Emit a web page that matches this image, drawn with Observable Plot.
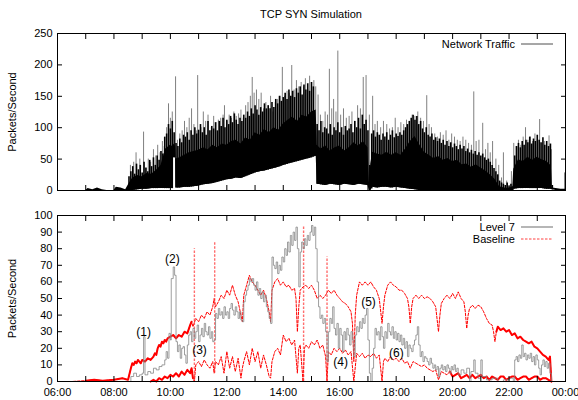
<!DOCTYPE html>
<html>
<head>
<meta charset="utf-8">
<script src="https://cdn.jsdelivr.net/npm/d3@7"></script>
<script src="https://cdn.jsdelivr.net/npm/@observablehq/plot@0.6"></script>
<style>
  body { margin: 0; background: #fff; }
  #wrap { position: relative; width: 578px; height: 400px; font-family: "Liberation Sans", Arial, sans-serif; }
  #title { position: absolute; left: 0; width: 622px; top: 8px; text-align: center; font-size: 11px; color: #000; }
  #topPlot { position: absolute; left: 0; top: 0; }
  #botPlot { position: absolute; left: 0; top: 200px; }
  .leg { position: absolute; left: 380px; width: 135px; text-align: right; font-size: 11px; line-height: 12px; color: #000; }
  .sw { position: absolute; left: 521px; width: 32px; height: 4px; display: block; }
</style>
</head>
<body>
<div id="wrap">
  <div id="topPlot"></div>
  <div id="botPlot"></div>
  <div id="title">TCP SYN Simulation</div>
  <div id="legends"></div>
</div>
<script>
// ---------------- DATA ----------------
const chartTitle = "TCP SYN Simulation";
const yLabel = "Packets/Second";
const topLegend = "Network Traffic";
const seriesNames = ["Level 7", "Baseline"];
const xTickHours = [6, 8, 10, 12, 14, 16, 18, 20, 22, 24];
const topYTicks = [0, 50, 100, 150, 200, 250];
const botYTicks = [0, 10, 20, 30, 40, 50, 60, 70, 80, 90, 100];

// Network traffic: dense band [time, low, high]
const trafficBand = [
["06:00",0,0],["07:00",0,0],["07:05",0,3],["07:15",0,1],["07:25",0,4],["07:35",0,1],["07:45",0,0],["08:00",0,0],["08:05",0,5],["08:15",0,4],["08:25",0,1],
["08:33",0,12],["08:40",0,20],["08:50",1,24],["09:00",2,22],["09:10",2,27],["09:20",3,26],["09:30",3,32],["09:40",3,40],["09:50",3,66],["10:00",3,72],["10:05",3,70],
["10:06",52,75],["10:11",52,70],["10:12",4,50],["10:20",4,52],["10:30",5,56],["10:40",5,60],["10:50",6,62],["11:00",7,64],["11:10",9,68],["11:20",10,65],["11:30",11,72],
["11:40",13,68],["11:50",15,74],["12:00",17,72],["12:10",18,78],["12:20",20,80],["12:30",19,74],["12:40",22,84],["12:50",25,80],["13:00",28,92],["13:10",30,88],
["13:20",31,97],["13:30",33,92],["13:40",35,100],["13:50",37,96],["14:00",40,106],["14:10",42,112],["14:20",44,117],["14:30",46,110],["14:40",48,120],["14:50",50,117],
["15:00",52,125],["15:10",55,128],["15:12",10,72],["15:20",9,66],["15:30",8,71],["15:40",10,63],["15:50",9,68],["16:00",8,71],["16:10",10,63],["16:20",9,68],
["16:30",8,76],["16:40",10,71],["16:50",9,78],["17:00",8,68],["17:03",0,12],["17:06",0,42],["17:10",5,61],["17:20",4,58],["17:30",5,56],["17:40",5,61],["17:50",4,56],
["18:00",5,60],["18:10",4,56],["18:20",3,66],["18:30",2,78],["18:40",1,86],["18:50",0,73],["19:00",0,61],["19:10",0,56],["19:20",0,51],["19:30",0,54],["19:40",0,48],
["19:50",0,51],["20:00",0,46],["20:10",0,48],["20:20",0,41],["20:30",0,42],["20:40",0,37],["20:50",0,41],["21:00",0,36],["21:10",0,31],["21:20",0,25],["21:30",0,18],
["21:40",0,6],["21:50",0,4],["22:00",0,3],["22:08",0,6],["22:10",2,34],["22:20",3,49],["22:30",3,46],["22:40",3,53],["22:50",3,48],["23:00",3,53],["23:10",3,49],
["23:20",2,46],["23:30",2,39],["23:32",1,4],["23:40",0,3],["23:50",0,2],["24:00",0,2]
];

// Network traffic: medium peaks, one every 4 minutes from 08:32
const midPeakStart = "08:32";
const midPeakStepMinutes = 4;
const midPeaks = [
22,30,38,26,42,33,40,28,45,36,30,48,38,52,40,
55,48,62,58,85,90,105,98,110,92,75,70,82,76,88,
85,92,80,95,88,100,90,96,105,92,100,88,110,95,102,
98,108,95,110,102,115,100,112,105,118,108,122,112,105,115,
110,120,115,125,118,130,122,135,128,120,132,125,138,130,135,
130,140,132,145,138,150,142,148,155,145,160,150,158,148,162,
155,165,152,168,160,170,158,172,165,100,105,95,110,92,100,
98,90,105,88,100,95,108,92,100,88,102,95,98,105,92,
110,100,115,98,120,105,112,95,40,90,95,85,92,88,80,
90,85,92,80,88,95,84,90,86,92,88,95,100,105,110,
115,120,112,118,105,110,98,92,100,88,85,90,80,84,78,
82,75,80,72,78,70,76,68,74,70,65,72,66,70,62,
66,60,64,58,62,56,60,55,58,52,48,50,45,40,35,
30,25,15,12,10,8,12,6,10,5,55,70,75,68,78,
72,80,76,85,74,82,78,88,80,76,84,72,78,70,74,
8
];

// Network traffic: tall individual peaks [time, value]
const trafficPeaks = [
["08:35",40],["08:42",45],["08:47",60],["08:55",50],["09:03",93],["09:08",35],["09:13",50],["09:18",45],["09:24",65],["09:29",55],["09:33",72],["09:38",60],["09:43",78],
["09:47",70],["09:52",100],["09:56",138],["10:00",115],["10:04",125],["10:11",181],["10:15",80],["10:20",90],["10:25",95],["10:30",110],["10:35",100],["10:40",115],
["10:45",130],["10:50",105],["10:55",95],["10:58",183],["11:05",100],["11:10",125],["11:15",110],["11:20",120],["11:27",100],["11:32",118],["11:37",108],["11:42",112],
["11:47",115],["11:52",120],["11:55",135],["12:00",110],["12:05",120],["12:10",115],["12:15",125],["12:20",118],["12:25",122],["12:30",128],["12:35",115],["12:40",135],
["12:45",140],["12:50",150],["12:54",180],["12:58",155],["13:03",160],["13:08",145],["13:13",155],["13:18",130],["13:23",140],["13:28",135],["13:33",150],["13:38",125],
["13:43",140],["13:48",145],["13:53",150],["13:58",196],["14:03",150],["14:08",158],["14:13",155],["14:18",199],["14:23",160],["14:28",175],["14:33",165],["14:38",172],
["14:43",165],["14:47",178],["14:52",160],["14:56",182],["15:00",170],["15:05",175],["15:09",165],["15:14",152],["15:19",120],["15:24",110],["15:29",125],["15:34",120],
["15:38",193],["15:43",130],["15:47",145],["15:52",125],["15:56",222],["16:02",120],["16:08",130],["16:14",115],["16:20",118],["16:26",125],["16:32",110],["16:38",135],
["16:44",130],["16:50",180],["16:56",183],["17:03",120],["17:10",150],["17:15",105],["17:20",110],["17:27",100],["17:33",110],["17:40",105],["17:46",98],["17:52",100],
["17:58",115],["18:04",100],["18:10",108],["18:16",105],["18:22",112],["18:28",110],["18:34",120],["18:40",118],["18:46",125],["18:52",115],["18:58",110],["19:05",151],
["19:10",105],["19:15",100],["19:22",90],["19:28",85],["19:34",92],["19:40",88],["19:46",95],["19:52",80],["19:58",90],["20:04",85],["20:10",80],["20:16",78],["20:22",85],
["20:28",80],["20:34",75],["20:40",72],["20:45",157],["20:50",78],["20:56",80],["21:04",107],["21:10",65],["21:15",75],["21:20",60],["21:25",78],["21:32",50],["21:38",40],
["21:44",20],["21:48",60],["21:55",15],["22:05",30],["22:10",75],["22:15",70],["22:20",80],["22:25",72],["22:30",85],["22:35",100],["22:40",80],["22:45",85],["22:50",78],
["22:55",90],["23:00",80],["23:05",113],["23:10",75],["23:15",78],["23:20",70],["23:25",87],["23:30",65],["23:58",28]
];

// Level 7 [hour, value]
const level7 = [
[6.0,0],[8.55,0],[8.6,3],[8.7,5],[8.8,3],[8.9,4],[9.0,5],[9.05,27],[9.1,4],[9.2,6],[9.3,5],[9.4,8],[9.5,7],[9.6,9],[9.7,10],[9.8,13],[9.85,18],[9.9,14],[9.95,29],[10.0,25],
[10.03,62],[10.1,69],[10.15,64],[10.2,24],[10.25,18],[10.3,22],[10.35,14],[10.4,20],[10.45,21],[10.5,16],[10.55,11],[10.6,22],[10.65,28],[10.7,30],[10.75,24],[10.8,32],
[10.85,26],[10.9,30],[10.95,34],[11.0,24],[11.05,28],[11.1,32],[11.15,27],[11.2,35],[11.25,30],[11.3,28],[11.35,33],[11.4,26],[11.45,30],[11.5,24],[11.55,25],[11.6,41],
[11.65,38],[11.7,44],[11.75,40],[11.8,42],[11.85,38],[11.9,45],[11.95,40],[12.0,42],[12.05,38],[12.1,44],[12.15,47],[12.2,43],[12.25,40],[12.3,45],[12.35,42],[12.4,38],
[12.45,42],[12.5,37],[12.55,36],[12.6,48],[12.65,52],[12.7,55],[12.75,58],[12.8,62],[12.85,60],[12.9,62],[12.95,58],[13.0,55],[13.05,60],[13.1,52],[13.15,56],[13.2,50],
[13.25,54],[13.3,48],[13.35,52],[13.4,45],[13.45,42],[13.5,38],[13.55,35],[13.6,75],[13.65,70],[13.7,68],[13.75,72],[13.8,65],[13.85,70],[13.9,67],[13.95,75],[14.0,72],
[14.05,80],[14.1,76],[14.15,84],[14.2,78],[14.25,88],[14.3,82],[14.35,90],[14.4,85],[14.45,93],[14.5,80],[14.55,57],[14.6,78],[14.65,84],[14.7,80],[14.75,86],[14.8,82],
[14.85,88],[14.9,85],[14.95,90],[15.0,94],[15.05,88],[15.1,93],[15.15,80],[15.2,60],[15.25,45],[15.3,38],[15.35,40],[15.4,35],[15.45,38],[15.5,30],[15.55,12],[15.6,30],
[15.65,38],[15.7,35],[15.75,45],[15.8,32],[15.85,28],[15.9,35],[15.95,20],[16.0,32],[16.05,28],[16.1,18],[16.15,30],[16.2,25],[16.25,32],[16.3,28],[16.35,22],[16.4,30],
[16.45,25],[16.5,15],[16.55,28],[16.6,33],[16.65,30],[16.7,36],[16.75,32],[16.8,38],[16.85,35],[16.9,40],[16.95,44],[17.0,25],[17.05,5],[17.1,0],[17.15,8],[17.2,20],
[17.25,32],[17.3,28],[17.35,30],[17.4,25],[17.45,33],[17.5,27],[17.55,20],[17.6,30],[17.65,26],[17.7,35],[17.75,30],[17.8,28],[17.85,33],[17.9,26],[17.95,30],[18.0,25],
[18.05,29],[18.1,24],[18.15,28],[18.2,22],[18.25,26],[18.3,20],[18.35,24],[18.4,15],[18.45,22],[18.5,20],[18.55,18],[18.6,22],[18.65,25],[18.7,28],[18.75,33],[18.8,22],
[18.85,15],[18.9,18],[18.95,12],[19.0,15],[19.05,14],[19.1,12],[19.15,10],[19.2,14],[19.25,11],[19.3,8],[19.35,10],[19.4,7],[19.45,9],[19.5,3],[19.55,8],[19.6,10],
[19.65,7],[19.7,9],[19.75,6],[19.8,10],[19.85,8],[19.9,5],[19.95,9],[20.0,7],[20.05,10],[20.1,6],[20.15,8],[20.2,4],[20.3,7],[20.4,5],[20.5,8],[20.6,0],[20.65,6],
[20.75,13],[20.8,5],[20.9,2],[21.0,13],[21.05,3],[21.2,1],[21.4,2],[21.6,0],[21.8,1],[22.0,2],[22.15,0],[22.2,13],[22.25,15],[22.3,12],[22.35,16],[22.4,14],[22.45,22],
[22.5,15],[22.55,17],[22.6,13],[22.65,16],[22.7,14],[22.75,17],[22.8,12],[22.85,15],[22.9,10],[22.95,16],[23.0,13],[23.05,8],[23.1,4],[23.15,10],[23.2,13],[23.25,9],
[23.3,12],[23.35,8],[23.4,11],[23.45,5],[23.5,0],[24.0,0]
];

// Baseline, upper trace [hour, value]
const baselineUpper = [
[6.0,0],[6.5,0],[7.0,0.5],[7.3,1],[7.6,0.5],[8.0,1],[8.3,2],[8.5,1],[8.6,8],[8.65,11],[8.7,10],[8.75,12],[8.8,11],[8.85,13],[8.9,12],[8.95,11],[9.0,13],[9.1,12],
[9.2,14],[9.3,13],[9.4,15],[9.45,17],[9.5,16],[9.55,20],[9.6,22],[9.65,21],[9.7,24],[9.75,23],[9.8,25],[9.85,24],[9.9,26],[10.0,27],[10.1,28],[10.2,26],[10.3,28],
[10.4,27],[10.5,30],[10.6,29],[10.7,34],[10.75,36],[10.8,33],[10.9,38],[11.0,36],[11.1,40],[11.2,38],[11.3,42],[11.4,40],[11.5,45],[11.55,50],[11.6,45],[11.7,48],
[11.8,52],[11.9,50],[12.0,55],[12.1,52],[12.2,58],[12.3,52],[12.4,48],[12.5,40],[12.55,36],[12.6,52],[12.7,58],[12.8,64],[12.9,60],[13.0,58],[13.1,55],[13.2,52],
[13.3,55],[13.4,50],[13.5,42],[13.55,36],[13.6,55],[13.7,60],[13.8,62],[13.9,58],[14.0,60],[14.1,57],[14.2,58],[14.3,55],[14.4,56],[14.45,50],[14.5,30],[14.55,45],
[14.6,55],[14.7,57],[14.8,58],[14.9,56],[15.0,58],[15.1,55],[15.2,50],[15.3,52],[15.4,50],[15.5,52],[15.6,55],[15.7,53],[15.8,55],[15.9,52],[16.0,50],[16.1,48],
[16.2,47],[16.3,45],[16.4,42],[16.45,35],[16.5,12],[16.55,40],[16.6,52],[16.7,60],[16.8,58],[16.9,60],[17.0,58],[17.1,60],[17.2,57],[17.3,55],[17.4,50],[17.5,35],
[17.55,45],[17.6,52],[17.7,58],[17.8,60],[17.9,58],[18.0,57],[18.1,55],[18.2,55],[18.3,53],[18.4,50],[18.45,45],[18.5,35],[18.55,45],[18.6,50],[18.7,52],[18.8,50],
[18.9,52],[19.0,50],[19.1,51],[19.2,50],[19.3,48],[19.4,45],[19.5,30],[19.55,40],[19.6,47],[19.7,50],[19.8,52],[19.9,50],[20.0,53],[20.1,50],[20.2,54],[20.3,50],
[20.4,48],[20.45,42],[20.5,32],[20.55,40],[20.6,44],[20.7,46],[20.8,44],[20.9,46],[21.0,45],[21.1,42],[21.2,38],[21.3,35],[21.4,34],[21.45,30],[21.5,24],[21.55,30],
[21.6,33],[21.7,31],[21.8,32],[21.9,30],[22.0,31],[22.1,28],[22.2,29],[22.3,26],[22.4,27],[22.5,25],[22.6,24],[22.7,23],[22.8,24],[22.9,21],[23.0,20],[23.1,18],
[23.2,16],[23.3,15],[23.4,13],[23.45,15],[23.5,0],[24.0,0]
];

// Baseline, lower trace [hour, value]
const baselineLower = [
[9.3,0],[9.4,1],[9.5,0],[9.6,2],[9.7,1],[9.8,3],[9.9,2],[10.0,4],[10.1,3],[10.2,5],[10.3,3],[10.4,6],[10.5,4],[10.6,7],[10.7,5],[10.75,8],[10.8,2],[10.85,0],[10.9,10],
[11.0,12],[11.1,9],[11.2,13],[11.3,10],[11.4,8],[11.5,12],[11.55,5],[11.6,12],[11.7,10],[11.8,15],[11.9,5],[12.0,18],[12.1,8],[12.2,15],[12.3,6],[12.4,14],[12.5,2],
[12.55,8],[12.6,12],[12.7,18],[12.8,10],[12.9,20],[13.0,12],[13.1,18],[13.2,8],[13.3,16],[13.4,10],[13.5,3],[13.55,2],[13.6,12],[13.7,18],[13.8,20],[13.9,16],[14.0,28],
[14.1,24],[14.2,26],[14.3,22],[14.4,25],[14.45,15],[14.5,5],[14.55,20],[14.6,22],[14.7,0],[14.75,20],[14.8,22],[14.9,20],[15.0,24],[15.1,22],[15.2,25],[15.3,20],
[15.4,22],[15.5,15],[15.55,0],[15.6,18],[15.7,16],[15.8,20],[15.9,18],[16.0,20],[16.1,17],[16.2,19],[16.3,16],[16.4,18],[16.5,0],[16.6,17],[16.7,15],[16.8,17],
[16.9,14],[17.0,16],[17.1,15],[17.2,17],[17.3,14],[17.4,16],[17.5,0],[17.55,12],[17.6,14],[17.7,12],[17.8,15],[17.9,13],[18.0,14],[18.1,12],[18.2,14],[18.3,11],
[18.4,12],[18.5,8],[18.6,12],[18.7,11],[18.8,10],[18.9,9],[19.0,10],[19.1,8],[19.2,7],[19.3,6],[19.4,7],[19.5,1],[19.6,6],[19.7,5],[19.8,4],[19.9,6],[20.0,3],
[20.1,4],[20.2,5],[20.3,2],[20.4,3],[20.5,4],[20.6,2],[20.7,4],[20.8,2],[20.9,3],[21.0,4],[21.1,2],[21.2,3],[21.3,1],[21.4,3],[21.5,2],[21.6,1],[21.7,3],[21.8,3],
[21.9,1],[22.0,2],[22.1,3],[22.2,3],[22.3,1],[22.4,2],[22.5,3],[22.6,3],[22.7,1],[22.8,2],[22.9,3],[23.0,3],[23.1,1],[23.2,2],[23.3,2],[23.4,1],[23.5,0],[24.0,0]
];

// Baseline vertical spikes [hour, from, to]
const baselineSpikes = [[10.85, 0, 80], [11.57, 5, 84], [14.72, 0, 93], [15.55, 0, 75]];

// Numbered annotations [hour, value, label]
const annotations = [[9.05, 30, "(1)"], [10.07, 73.5, "(2)"], [11.03, 18.7, "(3)"], [16.03, 11.4, "(4)"], [17.02, 47.6, "(5)"], [18.01, 16.9, "(6)"]];

// ---------------- BUILD ----------------
const parseT = s => { const [h, m] = s.split(":").map(Number); return h + m / 60; };
const band = trafficBand.map(([t, low, high]) => ({t: parseT(t), low, high}));
const lowAt = t => {
  const i = d3.bisector(d => d.t).right(band, t);
  if (i <= 0) return band[0].low;
  if (i >= band.length) return band[band.length - 1].low;
  const a = band[i - 1], b = band[i];
  return a.low + (b.low - a.low) * (t - a.t) / (b.t - a.t);
};
const peaks = trafficPeaks.map(([t, v]) => { const tt = parseT(t); return {t: tt, v, base: lowAt(tt)}; });
const mid0 = parseT(midPeakStart);
const mids = midPeaks.map((v, i) => { const tt = mid0 + i * midPeakStepMinutes / 60; return {t: tt, v, base: lowAt(tt)}; });
const l7 = level7.map(([t, v]) => ({t, v}));
const bu = baselineUpper.map(([t, v]) => ({t, v}));
const bl = baselineLower.map(([t, v]) => ({t, v}));
const spikes = baselineSpikes.map(([t, a, b]) => ({t, a, b}));
const notes = annotations.map(([t, v, label]) => ({t, v, label}));

const denseUpper = [[6.9, 10.75], [21.55, 23.5]];
const denseLower = [[9.3, 10.8], [19.9, 23.5]];
const inR = (t, R) => R.some(([a, b]) => t >= a && t <= b);

const fmtTime = h => String(h % 24).padStart(2, "0") + ":00";
const hourTicks = d3.range(6, 25, 1);
const font = "'Liberation Sans', Arial, sans-serif";
const baseStyle = {fontFamily: font, fontSize: "11px", color: "#000", background: "white", overflow: "visible"};
const W = 578, ML = 57, MR = 13;
const RED = "#ff0000", GRAY = "#858585";

const topPlot = Plot.plot({
  width: W, height: 200,
  marginLeft: ML, marginRight: MR, marginTop: 33, marginBottom: 10,
  style: baseStyle,
  x: {domain: [6, 24]},
  y: {domain: [0, 250]},
  marks: [
    Plot.areaY(band, {x: "t", y1: "low", y2: "high", fill: "#000", curve: "linear"}),
    Plot.ruleX(peaks, {x: "t", y1: "base", y2: "v", stroke: "#000", strokeOpacity: 0.5, strokeWidth: 1}),
    Plot.ruleX(mids, {x: "t", y1: "base", y2: "v", stroke: "#000", strokeOpacity: 1, strokeWidth: 1.6}),
    Plot.axisY({anchor: "left", ticks: topYTicks, tickSize: 0, tickPadding: 5, label: yLabel, labelAnchor: "center", labelArrow: "none", labelOffset: 49}),
    Plot.axisY({anchor: "left", ticks: topYTicks, tickSize: -5, tickFormat: () => "", label: null}),
    Plot.axisY({anchor: "right", ticks: topYTicks, tickSize: -5, tickFormat: () => "", label: null}),
    Plot.axisX({anchor: "bottom", ticks: hourTicks, tickSize: -5, tickFormat: () => "", label: null}),
    Plot.axisX({anchor: "top", ticks: hourTicks, tickSize: -5, tickFormat: () => "", label: null}),
    Plot.frame({stroke: "#000", strokeWidth: 1})
  ]
});

const botPlot = Plot.plot({
  width: W, height: 200,
  marginLeft: ML, marginRight: MR, marginTop: 15, marginBottom: 19,
  style: baseStyle,
  x: {domain: [6, 24]},
  y: {domain: [0, 100]},
  marks: [
    Plot.line(bl, {x: "t", y: "v", stroke: RED, strokeWidth: 1, strokeDasharray: "2.5,1.5"}),
    Plot.line(bl, {x: "t", y: d => inR(d.t, denseLower) ? d.v : NaN, stroke: RED, strokeWidth: 2}),
    Plot.line(bu, {x: "t", y: "v", stroke: RED, strokeWidth: 1, strokeDasharray: "2.5,1.5"}),
    Plot.line(bu, {x: "t", y: d => inR(d.t, denseUpper) ? d.v : NaN, stroke: RED, strokeWidth: 2}),
    Plot.ruleX(spikes, {x: "t", y1: "a", y2: "b", stroke: "#ff3030", strokeWidth: 1.4, strokeOpacity: 0.7, strokeDasharray: "2.5,1.5"}),
    Plot.line(l7, {x: "t", y: "v", stroke: GRAY, strokeWidth: 0.8, curve: "step-after"}),
    Plot.text(notes, {x: "t", y: "v", text: "label", fontSize: 12, fill: "#000", textAnchor: "middle", lineAnchor: "middle"}),
    Plot.axisY({anchor: "left", ticks: botYTicks, tickSize: 0, tickPadding: 5, label: yLabel, labelAnchor: "center", labelArrow: "none", labelOffset: 49}),
    Plot.axisY({anchor: "left", ticks: botYTicks, tickSize: -5, tickFormat: () => "", label: null}),
    Plot.axisY({anchor: "right", ticks: botYTicks, tickSize: -5, tickFormat: () => "", label: null}),
    Plot.axisX({anchor: "bottom", ticks: xTickHours, tickSize: 0, tickPadding: 7, tickFormat: fmtTime, label: null}),
    Plot.axisX({anchor: "bottom", ticks: hourTicks, tickSize: -5, tickFormat: () => "", label: null}),
    Plot.axisX({anchor: "top", ticks: hourTicks, tickSize: -5, tickFormat: () => "", label: null}),
    Plot.frame({stroke: "#000", strokeWidth: 1})
  ]
});

document.getElementById("topPlot").appendChild(topPlot);
document.getElementById("botPlot").appendChild(botPlot);
document.getElementById("title").textContent = chartTitle;

// Legends as HTML overlays
const legendItems = [
  {label: topLegend, y: 44, stroke: "#222", width: 0.8, dash: null},
  {label: seriesNames[0], y: 227, stroke: GRAY, width: 1.2, dash: null},
  {label: seriesNames[1], y: 239, stroke: "#ff4040", width: 1, dash: "2.5,1.5"}
];
const legendHost = document.getElementById("legends");
legendItems.forEach(it => {
  const t = document.createElement("div");
  t.className = "leg";
  t.style.top = (it.y - 6) + "px";
  t.textContent = it.label;
  legendHost.appendChild(t);
  const s = document.createElementNS("http://www.w3.org/2000/svg", "svg");
  s.setAttribute("class", "sw");
  s.setAttribute("width", 32); s.setAttribute("height", 4);
  s.style.top = (it.y - 2) + "px";
  const p = document.createElementNS("http://www.w3.org/2000/svg", "line");
  p.setAttribute("x1", 0); p.setAttribute("x2", 32); p.setAttribute("y1", 2); p.setAttribute("y2", 2);
  p.setAttribute("stroke", it.stroke); p.setAttribute("stroke-width", it.width);
  if (it.dash) p.setAttribute("stroke-dasharray", it.dash);
  s.appendChild(p);
  legendHost.appendChild(s);
});
</script>
</body>
</html>
